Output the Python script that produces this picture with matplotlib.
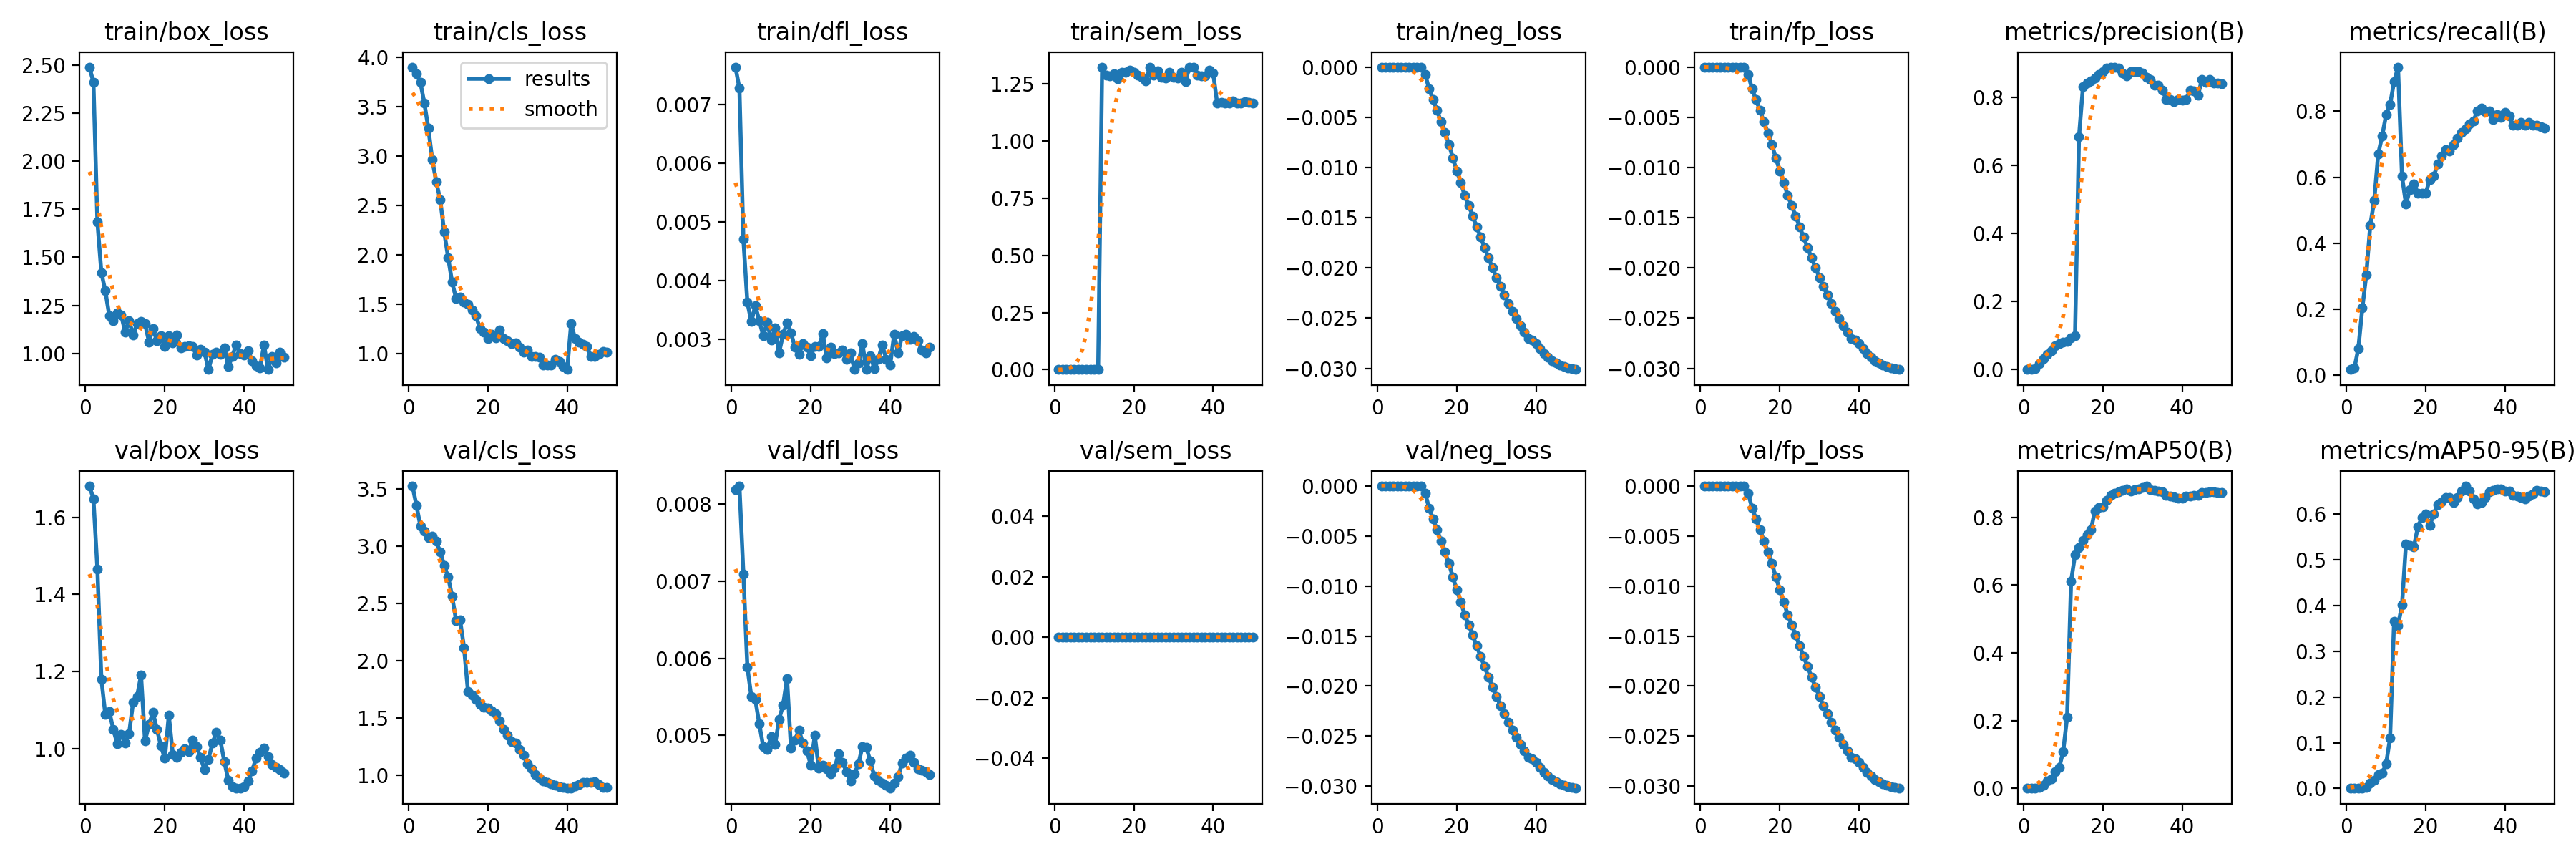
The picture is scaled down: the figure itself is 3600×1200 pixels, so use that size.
import numpy as np
import matplotlib
matplotlib.use("Agg")
from matplotlib import pyplot as plt
from matplotlib.ticker import MaxNLocator

epochs = list(range(1, 51))

train_box = [2.49, 2.41, 1.685, 1.42, 1.325, 1.196, 1.17, 1.21, 1.20, 1.11,
             1.17, 1.095, 1.155, 1.165, 1.155, 1.06, 1.13, 1.065, 1.09, 1.035,
             1.09, 1.055, 1.095, 1.03, 1.035, 1.04, 1.035, 0.99, 1.02, 1.005,
             0.915, 0.995, 1.005, 0.995, 1.03, 0.93, 0.985, 1.045, 1.00, 0.99,
             1.015, 0.96, 0.935, 0.925, 1.045, 0.915, 0.985, 0.95, 1.005, 0.98]
train_cls = [3.90, 3.83, 3.745, 3.535, 3.28, 2.96, 2.74, 2.555, 2.23, 1.97,
             1.72, 1.555, 1.57, 1.52, 1.50, 1.44, 1.38, 1.255, 1.215, 1.15,
             1.19, 1.16, 1.235, 1.15, 1.13, 1.10, 1.105, 1.06, 1.01, 1.035,
             0.965, 0.965, 0.96, 0.88, 0.885, 0.885, 0.94, 0.915, 0.87, 0.835,
             1.30, 1.15, 1.115, 1.09, 1.07, 0.965, 0.965, 0.99, 1.02, 1.01]
train_dfl = [0.00764, 0.00728, 0.00471, 0.00363, 0.00330, 0.00357, 0.00332, 0.00306, 0.00329, 0.00298,
             0.00319, 0.00277, 0.00308, 0.00328, 0.00311, 0.00286, 0.00274, 0.00292, 0.00286, 0.00272,
             0.00288, 0.00287, 0.00309, 0.00268, 0.00286, 0.00275, 0.00277, 0.00282, 0.00266, 0.00277,
             0.00248, 0.00259, 0.00292, 0.00248, 0.00272, 0.00250, 0.00266, 0.00290, 0.00266, 0.00256,
             0.00308, 0.00277, 0.00306, 0.00308, 0.00300, 0.00305, 0.00297, 0.00281, 0.00277, 0.00286]
train_sem = [0.0, 0.0, 0.0, 0.0, 0.0, 0.0, 0.0, 0.0, 0.0, 0.0,
             0.0, 1.322, 1.288, 1.285, 1.294, 1.27, 1.30, 1.30, 1.31, 1.30,
             1.288, 1.277, 1.262, 1.32, 1.288, 1.305, 1.277, 1.274, 1.30, 1.277,
             1.274, 1.30, 1.26, 1.32, 1.32, 1.288, 1.285, 1.283, 1.31, 1.297,
             1.164, 1.168, 1.164, 1.164, 1.175, 1.164, 1.164, 1.172, 1.168, 1.164]
train_neg = [0.0, 0.0, 0.0, 0.0, 0.0, 0.0, 0.0, 0.0, 0.0, 0.0,
             0.0, -0.0007, -0.00215, -0.00323, -0.00427, -0.00543, -0.00652, -0.00768, -0.00905, -0.01034,
             -0.0115, -0.0128, -0.01378, -0.01482, -0.0159, -0.01694, -0.01797, -0.0190, -0.0200, -0.02095,
             -0.02185, -0.02268, -0.02353, -0.02431, -0.02503, -0.02573, -0.02638, -0.02702, -0.02715, -0.02754,
             -0.02806, -0.02852, -0.02891, -0.02922, -0.02948, -0.02966, -0.02982, -0.02995, -0.03005, -0.03013]
train_fp = [0.0, 0.0, 0.0, 0.0, 0.0, 0.0, 0.0, 0.0, 0.0, 0.0,
            0.0, -0.0007, -0.00215, -0.00325, -0.00430, -0.00545, -0.00655, -0.00770, -0.00905, -0.01034,
            -0.0115, -0.0128, -0.01378, -0.01482, -0.0159, -0.01694, -0.01797, -0.0190, -0.0200, -0.02095,
            -0.02185, -0.02268, -0.02353, -0.02431, -0.02503, -0.02573, -0.02638, -0.02702, -0.02720, -0.02754,
            -0.02806, -0.02852, -0.02891, -0.02922, -0.02948, -0.02966, -0.02982, -0.02995, -0.03005, -0.03013]
precision = [0.0, 0.0, 0.004, 0.017, 0.033, 0.045, 0.055, 0.07, 0.076, 0.081,
             0.083, 0.093, 0.099, 0.684, 0.830, 0.842, 0.847, 0.857, 0.867, 0.874,
             0.885, 0.887, 0.888, 0.885, 0.87, 0.862, 0.874, 0.876, 0.876, 0.87,
             0.859, 0.852, 0.834, 0.836, 0.821, 0.794, 0.792, 0.786, 0.794, 0.791,
             0.792, 0.821, 0.819, 0.806, 0.852, 0.844, 0.852, 0.842, 0.842, 0.840]
recall = [0.016, 0.021, 0.080, 0.203, 0.304, 0.454, 0.529, 0.670, 0.725, 0.790,
          0.821, 0.890, 0.934, 0.603, 0.518, 0.563, 0.579, 0.552, 0.552, 0.552,
          0.593, 0.603, 0.640, 0.664, 0.684, 0.680, 0.699, 0.719, 0.735, 0.747,
          0.762, 0.770, 0.802, 0.809, 0.799, 0.802, 0.774, 0.790, 0.782, 0.796,
          0.786, 0.757, 0.758, 0.766, 0.758, 0.766, 0.758, 0.758, 0.754, 0.749]

val_box = [1.682, 1.648, 1.466, 1.180, 1.088, 1.095, 1.050, 1.012, 1.036, 1.014,
           1.039, 1.120, 1.135, 1.190, 1.019, 1.062, 1.093, 1.050, 1.007, 0.974,
           1.086, 0.985, 0.976, 0.990, 0.999, 0.992, 1.021, 1.005, 0.976, 0.945,
           0.972, 1.014, 1.042, 1.021, 0.965, 0.918, 0.901, 0.896, 0.896, 0.901,
           0.916, 0.942, 0.974, 0.989, 1.001, 0.978, 0.958, 0.950, 0.945, 0.936]
val_cls = [3.527, 3.358, 3.177, 3.132, 3.076, 3.087, 3.042, 2.951, 2.832, 2.733,
           2.561, 2.354, 2.358, 2.116, 1.734, 1.70, 1.666, 1.621, 1.598, 1.591,
           1.564, 1.542, 1.479, 1.402, 1.350, 1.298, 1.282, 1.226, 1.176, 1.102,
           1.056, 1.011, 0.977, 0.955, 0.937, 0.928, 0.914, 0.905, 0.898, 0.887,
           0.887, 0.910, 0.921, 0.937, 0.937, 0.937, 0.944, 0.921, 0.898, 0.894]
val_dfl = [0.008184, 0.008235, 0.007095, 0.005888, 0.005503, 0.005469, 0.005151, 0.004856, 0.004816, 0.004983,
           0.004883, 0.005211, 0.005392, 0.005738, 0.004832, 0.004943, 0.005067, 0.004899, 0.004799, 0.004614,
           0.005000, 0.004574, 0.004614, 0.004564, 0.004507, 0.004574, 0.004765, 0.004648, 0.004530, 0.004413,
           0.004507, 0.004631, 0.004856, 0.004843, 0.004665, 0.004473, 0.004420, 0.004386, 0.004353, 0.004313,
           0.004386, 0.004463, 0.004641, 0.004708, 0.004748, 0.004648, 0.004564, 0.004547, 0.004530, 0.004497]
val_sem = [0.0] * 50
val_neg = [0.0, 0.0, 0.0, 0.0, 0.0, 0.0, 0.0, 0.0, 0.0, 0.0,
           0.0, -0.0007, -0.00220, -0.00330, -0.00435, -0.00550, -0.00660, -0.00775, -0.00910, -0.01040,
           -0.0116, -0.0129, -0.01388, -0.01492, -0.0160, -0.01704, -0.01807, -0.0191, -0.0201, -0.02105,
           -0.02195, -0.02278, -0.02363, -0.02441, -0.02513, -0.02583, -0.02648, -0.02712, -0.02730, -0.02764,
           -0.02816, -0.02862, -0.02901, -0.02932, -0.02958, -0.02976, -0.02992, -0.03005, -0.03015, -0.03023]
val_fp = [0.0, 0.0, 0.0, 0.0, 0.0, 0.0, 0.0, 0.0, 0.0, 0.0,
          0.0, -0.0007, -0.00220, -0.00330, -0.00435, -0.00550, -0.00660, -0.00775, -0.00910, -0.01040,
          -0.0116, -0.0129, -0.01388, -0.01492, -0.0160, -0.01704, -0.01807, -0.0191, -0.0201, -0.02105,
          -0.02195, -0.02278, -0.02363, -0.02441, -0.02513, -0.02583, -0.02648, -0.02712, -0.02730, -0.02764,
          -0.02816, -0.02862, -0.02901, -0.02932, -0.02958, -0.02976, -0.02992, -0.03005, -0.03015, -0.03023]
map50 = [0.0, 0.0, 0.0, 0.002, 0.009, 0.022, 0.028, 0.050, 0.062, 0.108,
         0.211, 0.611, 0.690, 0.710, 0.733, 0.748, 0.763, 0.819, 0.830, 0.832,
         0.851, 0.866, 0.872, 0.875, 0.879, 0.885, 0.878, 0.883, 0.885, 0.888,
         0.893, 0.883, 0.879, 0.878, 0.875, 0.866, 0.864, 0.860, 0.857, 0.857,
         0.862, 0.862, 0.865, 0.866, 0.874, 0.874, 0.875, 0.875, 0.874, 0.873]
map50_95 = [0.0, 0.0, 0.0, 0.0, 0.003, 0.011, 0.018, 0.031, 0.033, 0.054,
            0.111, 0.366, 0.357, 0.401, 0.535, 0.531, 0.529, 0.572, 0.593, 0.600,
            0.576, 0.600, 0.621, 0.628, 0.637, 0.636, 0.625, 0.637, 0.651, 0.662,
            0.651, 0.634, 0.623, 0.625, 0.637, 0.649, 0.653, 0.656, 0.655, 0.651,
            0.651, 0.642, 0.640, 0.637, 0.634, 0.640, 0.645, 0.653, 0.651, 0.649]

titles = ["train/box_loss", "train/cls_loss", "train/dfl_loss", "train/sem_loss",
          "train/neg_loss", "train/fp_loss", "metrics/precision(B)", "metrics/recall(B)",
          "val/box_loss", "val/cls_loss", "val/dfl_loss", "val/sem_loss",
          "val/neg_loss", "val/fp_loss", "metrics/mAP50(B)", "metrics/mAP50-95(B)"]
series = [train_box, train_cls, train_dfl, train_sem, train_neg, train_fp, precision, recall,
          val_box, val_cls, val_dfl, val_sem, val_neg, val_fp, map50, map50_95]


def gaussian_smooth(y, sigma=3.0):
    # same as scipy gaussian_filter1d (mode reflect, truncate 4)
    y = np.asarray(y, dtype=float)
    r = int(4.0 * sigma + 0.5)
    k = np.exp(-0.5 * (np.arange(-r, r + 1) / sigma) ** 2)
    k /= k.sum()
    yp = np.pad(y, r, mode="symmetric")
    return np.convolve(yp, k, mode="valid")


fig, ax = plt.subplots(2, 8, figsize=(18, 6), tight_layout=True)
ax = ax.ravel()
x = np.array(epochs)
for i, (t, y) in enumerate(zip(titles, series)):
    y = np.array(y)
    ax[i].plot(x, y, marker=".", label="results", linewidth=2, markersize=8)
    ax[i].plot(x, gaussian_smooth(y), ":", label="smooth", linewidth=2)
    ax[i].set_title(t, fontsize=12)
ax[3].yaxis.set_major_locator(MaxNLocator(7))
ax[1].legend()
fig.savefig("out.png", dpi=200)
